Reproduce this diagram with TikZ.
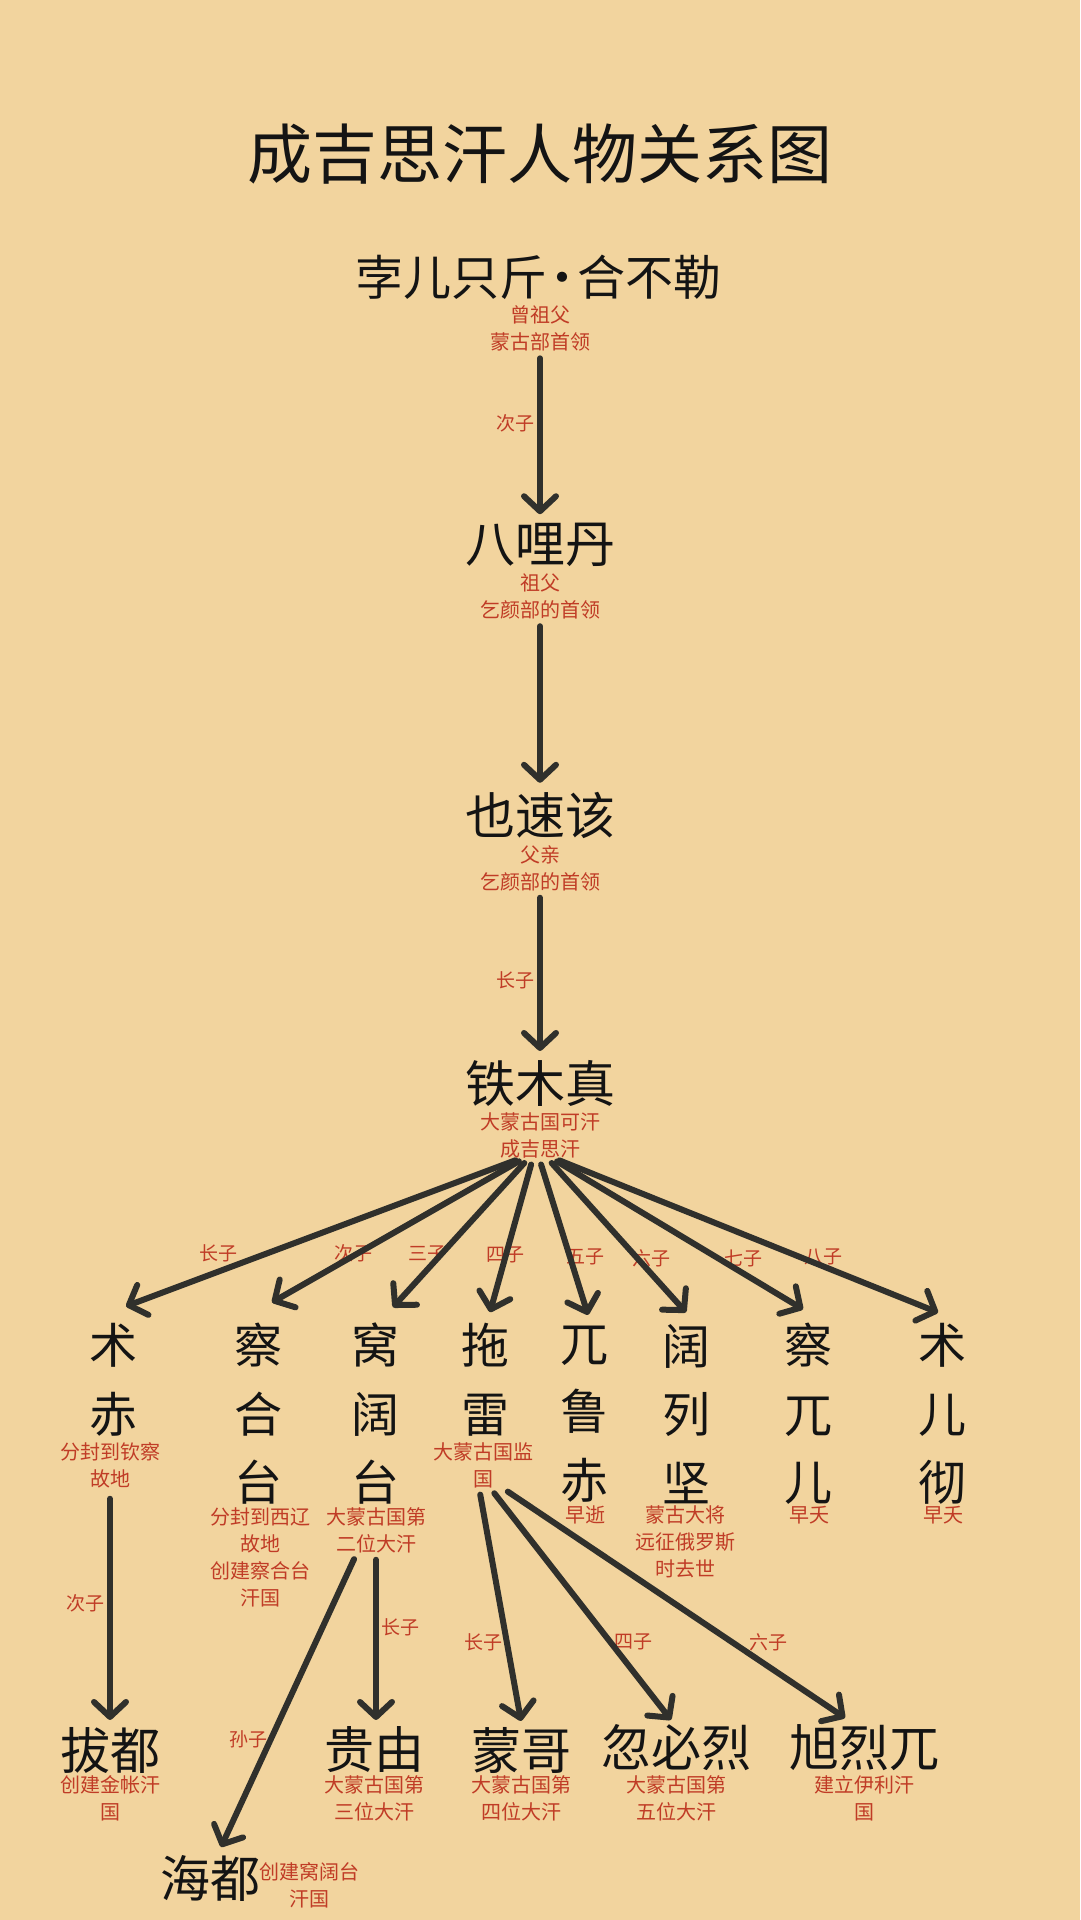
\documentclass[tikz,border=0pt]{standalone}
\usepackage{fontspec}
\setmainfont{Noto Sans CJK SC}
\usetikzlibrary{arrows.meta}
\definecolor{bg}{RGB}{242,212,158}
\definecolor{redtxt}{RGB}{192,60,38}
\definecolor{inkc}{RGB}{20,20,20}
\definecolor{arrowc}{RGB}{48,48,44}
\tikzset{
  every node/.style={inner sep=0pt, outer sep=0pt},
  titlet/.style={font=\fontsize{65pt}{70pt}\selectfont, text=inkc},
  person/.style={font=\fontsize{50pt}{60pt}\selectfont, text=inkc, align=center},
  vperson/.style={font=\fontsize{48pt}{68.5pt}\selectfont, text=inkc, align=center},
  note/.style={font=\fontsize{20pt}{27pt}\selectfont, text=redtxt, align=center},
  elabel/.style={font=\fontsize{19pt}{22pt}\selectfont, text=redtxt},
  link/.style={draw=arrowc, line width=6pt, line cap=round,
    -{Straight Barb[length=15pt,width=32pt,round]},
    shorten <=7pt, shorten >=0pt},
}
\begin{document}
\begin{tikzpicture}[x=1pt, y=-1pt]
\fill[bg] (0,0) rectangle (1080,1920);
\useasboundingbox (0,0) rectangle (1080,1920);

% title
\node[titlet] (title) at (540,154) {成吉思汗人物关系图};

% ancestors
\node[person, font=\fontsize{48pt}{56pt}\selectfont] (buer) at (538,277) {孛儿只斤\makebox[30pt][c]{·}合不勒};
\node[note] (buerN) at (540,328.5) {曾祖父\\蒙古部首领};
\node[person] (bali) at (540,545) {八哩丹};
\node[note] (baliN) at (540,596.5) {祖父\\乞颜部的首领};
\node[person] (yesu) at (540,815) {也速该};
\node[note] (yesuN) at (540,868) {父亲\\乞颜部的首领};
\node[person] (tmz) at (540,1083) {铁木真};
\node[note] (tmzN) at (540,1135) {大蒙古国可汗\\成吉思汗};

% sons
\node[vperson] (c1) at (113,1379.5) {术\\赤};
\node[vperson] (c2) at (258,1414) {察\\合\\台};
\node[vperson] (c3) at (375,1414) {窝\\阔\\台};
\node[vperson] (c4) at (485,1379.5) {拖\\雷};
\node[vperson] (c5) at (584,1414) {兀\\鲁\\赤};
\node[vperson] (c6) at (686,1414) {阔\\列\\坚};
\node[vperson] (c7) at (808,1414) {察\\兀\\儿};
\node[vperson] (c8) at (942,1414) {术\\儿\\彻};

\node[note] (c1N) at (110,1465) {分封到钦察\\故地};
\node[note] (c2N) at (260,1557) {分封到西辽\\故地\\创建察合台\\汗国};
\node[note] (c3N) at (376,1530) {大蒙古国第\\二位大汗};
\node[note] (c4N) at (483,1465) {大蒙古国监\\国};
\node[note] (c5N) at (585,1515) {早逝};
\node[note] (c6N) at (685,1542) {蒙古大将\\远征俄罗斯\\时去世};
\node[note] (c7N) at (809,1515) {早夭};
\node[note] (c8N) at (943,1515) {早夭};

% grandsons
\node[person] (g1) at (110,1750) {拔都};
\node[note] (g1N) at (110,1798.5) {创建金帐汗\\国};
\node[person] (g2) at (210,1878) {海都};
\node[note] (g2N) at (309,1885) {创建窝阔台\\汗国};
\node[person] (g3) at (374,1750) {贵由};
\node[note] (g3N) at (374,1798.5) {大蒙古国第\\三位大汗};
\node[person] (g4) at (521,1750) {蒙哥};
\node[note] (g4N) at (521,1798.5) {大蒙古国第\\四位大汗};
\node[person] (g5) at (676,1748) {忽必烈};
\node[note] (g5N) at (676,1798.5) {大蒙古国第\\五位大汗};
\node[person] (g6) at (864,1748) {旭烈兀};
\node[note] (g6N) at (864,1798.5) {建立伊利汗\\国};

% edge labels
\node[elabel] (l1) at (515,423) {次子};
\node[elabel] (l3) at (515,980) {长子};
\node[elabel] (s1) at (218,1253) {长子};
\node[elabel] (s2) at (353,1253) {次子};
\node[elabel] (s3) at (427,1254) {三子};
\node[elabel] (s4) at (505,1255) {四子};
\node[elabel] (s5) at (585,1257) {五子};
\node[elabel] (s6) at (651,1258) {六子};
\node[elabel] (s7) at (743,1258) {七子};
\node[elabel] (s8) at (823,1257) {八子};
\node[elabel] (t1) at (85,1603) {次子};
\node[elabel] (t2) at (248,1739) {孙子};
\node[elabel] (t3) at (400,1627) {长子};
\node[elabel] (t4) at (483,1642) {长子};
\node[elabel] (t5) at (633,1642) {四子};
\node[elabel] (t6) at (768,1642) {六子};

% main line
\draw[link, shorten >=9pt] (buerN.south) -- (bali.north);
\draw[link, shorten >=9pt] (baliN.south) -- (yesu.north);
\draw[link, shorten >=9pt] (yesuN.south) -- (tmz.north);

% sons of Temujin
\draw[link] ([xshift=-18pt]tmzN.south) -- ([xshift=13pt,yshift=17pt]c1.north);
\draw[link] ([xshift=-15pt]tmzN.south) -- ([xshift=14pt,yshift=21pt]c2.north);
\draw[link] ([xshift=-11pt]tmzN.south) -- ([xshift=18pt,yshift=16pt]c3.north);
\draw[link] ([xshift=-7pt]tmzN.south) -- ([xshift=5pt,yshift=11pt]c4.north);
\draw[link] ([xshift=-1pt]tmzN.south) -- ([xshift=4pt,yshift=11pt]c5.north);
\draw[link] ([xshift=7pt]tmzN.south) -- ([xshift=0pt,yshift=12pt]c6.north);
\draw[link] ([xshift=11pt]tmzN.south) -- ([xshift=-5pt,yshift=14pt]c7.north);
\draw[link] ([xshift=13pt]tmzN.south) -- ([xshift=-4pt,yshift=11pt]c8.north);

% grandsons
\draw[link, shorten <=11pt, shorten >=7pt] (c1N.south) -- (g1.north);
\draw[link] ([xshift=-19pt]c3N.south) -- ([xshift=11pt,yshift=8pt]g2.north);
\draw[link, shorten >=7pt] (c3N.south) -- (c3N.south |- g3.north);
\draw[link] ([xshift=-4pt]c4N.south) -- ([yshift=6pt]g4.north);
\draw[link] ([xshift=7pt]c4N.south) -- ([xshift=-5pt,yshift=5pt]g5.north);
\draw[link] ([xshift=19pt]c4N.south) -- ([xshift=-19pt,yshift=7pt]g6.north);
\end{tikzpicture}
\end{document}
